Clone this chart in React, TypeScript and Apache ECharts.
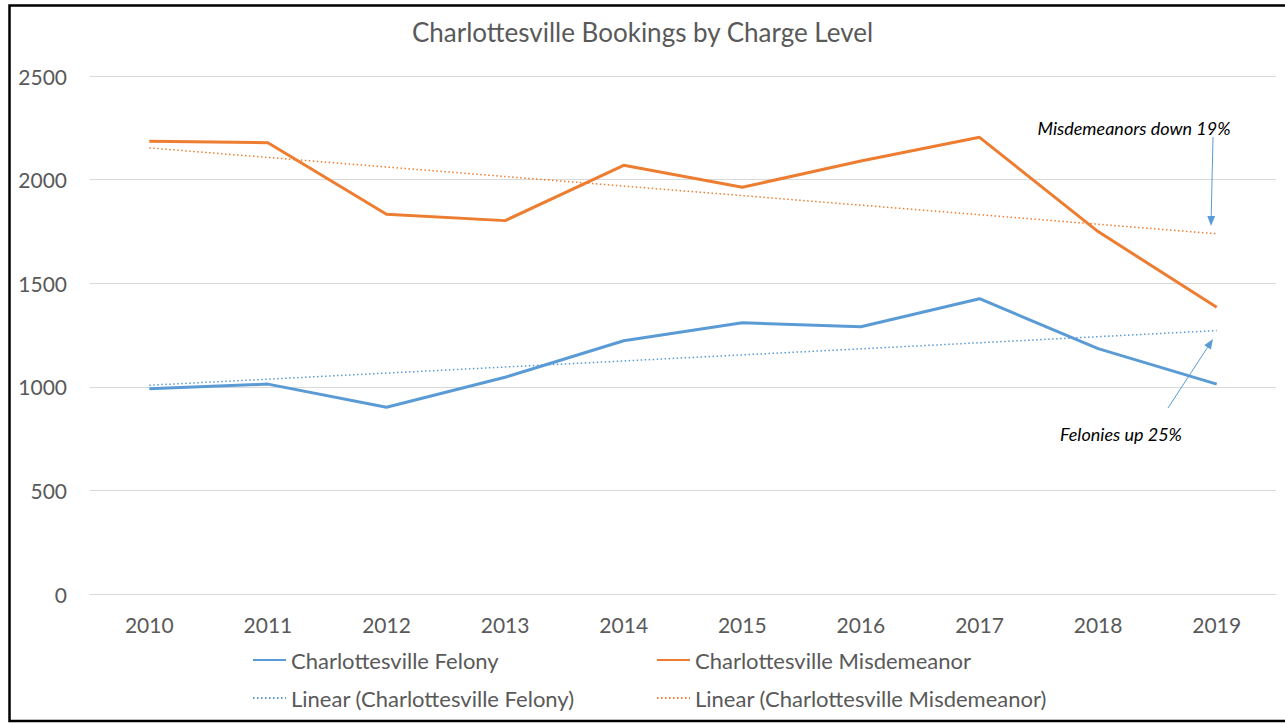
import React, { useEffect, useRef } from "react";
import * as echarts from "echarts";

const years = ["2010", "2011", "2012", "2013", "2014", "2015", "2016", "2017", "2018", "2019"];
const felony = [991, 1013, 901, 1046, 1222, 1309, 1290, 1425, 1184, 1013];
const misdemeanor = [2185, 2178, 1833, 1802, 2069, 1963, 2090, 2204, 1749, 1384];
const yTicks = [0, 500, 1000, 1500, 2000, 2500];

const BLUE = "#5B9BD5";
const ORANGE = "#ED7D31";
const FONT = "Lato, 'Open Sans', sans-serif";

// least-squares linear trend (as in Excel's "Linear" trendline)
function linearTrend(vals: number[]): number[] {
  const n = vals.length;
  const xm = (n - 1) / 2;
  const ym = vals.reduce((a, b) => a + b, 0) / n;
  let sxy = 0;
  let sxx = 0;
  vals.forEach((v, i) => {
    sxy += (i - xm) * (v - ym);
    sxx += (i - xm) * (i - xm);
  });
  const slope = sxy / sxx;
  return vals.map((_, i) => +(ym + slope * (i - xm)).toFixed(1));
}

function arrow(x1: number, y1: number, x2: number, y2: number, color: string) {
  const dx = x2 - x1;
  const dy = y2 - y1;
  const len = Math.sqrt(dx * dx + dy * dy);
  const ux = dx / len;
  const uy = dy / len;
  const hl = 10;
  const hw = 4;
  const bx = x2 - ux * hl;
  const by = y2 - uy * hl;
  return [
    {
      type: "line",
      shape: { x1, y1, x2: bx, y2: by },
      style: { stroke: color, lineWidth: 1 },
      z: 100,
    },
    {
      type: "polygon",
      shape: {
        points: [
          [x2, y2],
          [bx - uy * hw, by + ux * hw],
          [bx + uy * hw, by - ux * hw],
        ],
      },
      style: { fill: color },
      z: 100,
    },
  ];
}

const legendBase = {
  orient: "vertical",
  top: 644,
  itemWidth: 33,
  itemHeight: 14,
  itemGap: 16,
  itemStyle: { opacity: 0 },
  textStyle: { fontFamily: FONT, fontSize: 22, color: "#595959" },
};

export default function App() {
  const ref = useRef<HTMLDivElement>(null);
  useEffect(() => {
    if (!ref.current) return;
    const chart = echarts.init(ref.current, undefined, { renderer: "svg" });
    const felTrend = linearTrend(felony);
    const misTrend = linearTrend(misdemeanor);
    chart.setOption({
      animation: false,
      backgroundColor: "#ffffff",
      title: {
        text: "Charlottesville Bookings by Charge Level",
        left: "center",
        top: 14,
        textStyle: { fontFamily: FONT, fontSize: 26, fontWeight: "normal", color: "#595959" },
      },
      grid: { left: 90, right: 9, top: 76, bottom: 129, containLabel: false },
      xAxis: {
        type: "category",
        data: years,
        boundaryGap: true,
        axisLine: { show: true, lineStyle: { color: "#d9d9d9", width: 1 } },
        axisTick: { show: false },
        axisLabel: { fontFamily: FONT, fontSize: 21, color: "#595959", margin: 20 },
      },
      yAxis: {
        type: "value",
        min: 0,
        max: 2500,
        interval: 500,
        axisLine: { show: false },
        axisTick: { show: false },
        splitLine: { lineStyle: { color: "#d9d9d9", width: 1 } },
        axisLabel: {
          fontFamily: FONT,
          fontSize: 21,
          color: "#595959",
          margin: 23,
          formatter: (v: number) => (yTicks.includes(v) ? String(v) : ""),
        },
      },
      legend: [
        {
          ...legendBase,
          left: 247,
          data: ["Charlottesville Felony", "Linear (Charlottesville Felony)"],
        },
        {
          ...legendBase,
          left: 651,
          data: ["Charlottesville Misdemeanor", "Linear (Charlottesville Misdemeanor)"],
        },
      ],
      series: [
        {
          name: "Charlottesville Felony",
          type: "line",
          data: felony,
          symbol: "none",
          lineStyle: { color: BLUE, width: 3 },
          itemStyle: { color: BLUE },
          z: 3,
        },
        {
          name: "Charlottesville Misdemeanor",
          type: "line",
          data: misdemeanor,
          symbol: "none",
          lineStyle: { color: ORANGE, width: 3 },
          itemStyle: { color: ORANGE },
          z: 3,
        },
        {
          name: "Linear (Charlottesville Felony)",
          type: "line",
          data: felTrend,
          symbol: "none",
          lineStyle: { color: BLUE, width: 1.5, type: [1.5, 2.5] },
          itemStyle: { color: BLUE },
          z: 2,
        },
        {
          name: "Linear (Charlottesville Misdemeanor)",
          type: "line",
          data: misTrend,
          symbol: "none",
          lineStyle: { color: ORANGE, width: 1.5, type: [1.5, 2.5] },
          itemStyle: { color: ORANGE },
          z: 2,
        },
      ],
      graphic: [
        {
          type: "rect",
          shape: { x: 9.5, y: 5.5, width: 1300, height: 715.5 },
          style: { fill: "none", stroke: "#000000", lineWidth: 2.5 },
          silent: true,
          z: 200,
        },
        {
          type: "text",
          x: 1134,
          y: 128,
          style: {
            text: "Misdemeanors down 19%",
            fontFamily: FONT,
            fontStyle: "italic",
            fontSize: 18,
            fill: "#000000",
            align: "center",
            verticalAlign: "middle",
          },
        },
        {
          type: "text",
          x: 1121,
          y: 434,
          style: {
            text: "Felonies up 25%",
            fontFamily: FONT,
            fontStyle: "italic",
            fontSize: 18,
            fill: "#000000",
            align: "center",
            verticalAlign: "middle",
          },
        },
        ...arrow(1213, 137, 1211, 226, BLUE),
        ...arrow(1168, 408, 1213, 339, BLUE),
      ],
    });
    return () => chart.dispose();
  }, []);
  return (
    <div
      ref={ref}
      style={{ position: "fixed", left: 0, top: 0, width: 1285, height: 723 }}
    />
  );
}
